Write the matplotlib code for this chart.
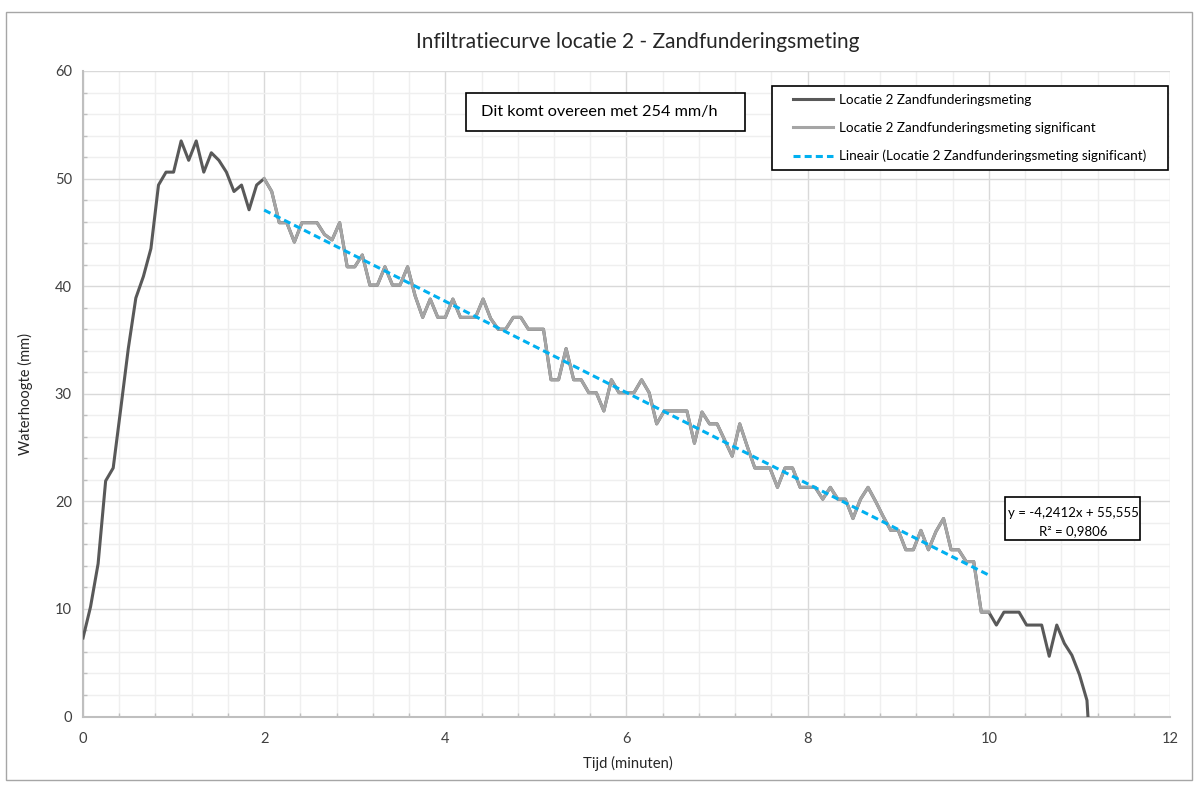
import numpy as np
import matplotlib
matplotlib.use("Agg")
import matplotlib.pyplot as plt
from matplotlib.patches import Rectangle
from matplotlib.ticker import MultipleLocator

plt.rcParams['font.family'] = ['Lato', 'DejaVu Sans']

# Water height (mm), one reading every 5 seconds
SAMPLE_SECONDS = 5
water_height = [
    7.3, 10.2, 14.2, 21.9, 23.1, 28.6, 34.2, 38.9, 40.9, 43.5,
    49.4, 50.6, 50.6, 53.5, 51.7, 53.5, 50.6, 52.4, 51.7, 50.6,
    48.8, 49.4, 47.1, 49.4, 50.0, 48.8, 45.9, 45.9, 44.1, 45.9,
    45.9, 45.9, 44.8, 44.3, 45.9, 41.8, 41.8, 42.9, 40.1, 40.1,
    41.8, 40.1, 40.1, 41.8, 39.1, 37.1, 38.8, 37.1, 37.1, 38.8,
    37.1, 37.1, 37.1, 38.8, 37.0, 36.0, 36.0, 37.1, 37.1, 36.0,
    36.0, 36.0, 31.3, 31.3, 34.2, 31.3, 31.3, 30.1, 30.1, 28.4,
    31.3, 30.1, 30.1, 30.1, 31.3, 30.1, 27.2, 28.4, 28.4, 28.4,
    28.4, 25.4, 28.3, 27.2, 27.2, 25.7, 24.2, 27.2, 25.1, 23.1,
    23.1, 23.1, 21.3, 23.1, 23.1, 21.3, 21.3, 21.3, 20.2, 21.3,
    20.2, 20.2, 18.4, 20.2, 21.3, 20.0, 18.6, 17.3, 17.3, 15.5,
    15.5, 17.3, 15.5, 17.2, 18.4, 15.5, 15.5, 14.4, 14.4, 9.7,
    9.7, 8.5, 9.7, 9.7, 9.7, 8.5, 8.5, 8.5, 5.6, 8.5,
    6.8, 5.7, 3.9, 1.5, -10.0,
]
time_min = np.arange(len(water_height)) * SAMPLE_SECONDS / 60.0

# Significant part of the measurement: from 2 to 10 minutes
sig_start_min = 2.0
sig_end_min = 10.0

# Linear trend (Excel trendline of the significant part)
slope = -4.2412
intercept = 55.555
r_squared = 0.9806

title = "Infiltratiecurve locatie 2 - Zandfunderingsmeting"
x_label = "Tijd (minuten)"
y_label = "Waterhoogte (mm)"
series_names = [
    "Locatie 2 Zandfunderingsmeting",
    "Locatie 2 Zandfunderingsmeting significant",
    "Lineair (Locatie 2 Zandfunderingsmeting significant)",
]
note_text = "Dit komt overeen met 254 mm/h"

W, H = 1198, 786
fig = plt.figure(figsize=(W / 100, H / 100), dpi=100)


def fx(px):
    return px / W


def fy(py):
    return 1 - py / H


ax = fig.add_axes([fx(83), fy(716.5), fx(1170) - fx(83), fy(71) - fy(716.5)])

height = np.array(water_height)
mask = (time_min >= sig_start_min - 1e-9) & (time_min <= sig_end_min + 1e-9)

dark = '#595959'
light = '#A5A5A5'
blue = '#00B0F0'

ax.plot(time_min, height, color=dark, lw=2.2, solid_joinstyle='round',
        label=series_names[0], zorder=3)
ax.plot(time_min[mask], height[mask], color=light, lw=2.2,
        solid_joinstyle='round', label=series_names[1], zorder=4)
tx = np.array([sig_start_min, sig_end_min])
ax.plot(tx, slope * tx + intercept, color=blue, lw=2.2,
        linestyle=(0, (2.3, 1.35)), label=series_names[2], zorder=5)

ax.set_xlim(0, 12)
ax.set_ylim(0, 60)
ax.xaxis.set_major_locator(MultipleLocator(2))
ax.xaxis.set_minor_locator(MultipleLocator(0.4))
ax.yaxis.set_major_locator(MultipleLocator(10))
ax.yaxis.set_minor_locator(MultipleLocator(2))
ax.grid(which='major', color='#D9D9D9', lw=1.0, zorder=0)
ax.grid(which='minor', color='#EFEFEF', lw=1.0, zorder=0)
ax.set_axisbelow(True)

for side in ('top', 'right'):
    ax.spines[side].set_visible(False)
for side in ('left', 'bottom'):
    ax.spines[side].set_color('#BFBFBF')
    ax.spines[side].set_linewidth(1.5)

ax.tick_params(which='major', length=0, labelsize=10.5, labelcolor='#404040')
ax.tick_params(which='minor', direction='in', length=3, color='#BFBFBF', width=1)
ax.tick_params(axis='x', which='major', pad=11)
ax.tick_params(axis='y', which='major', pad=8)

fig.text(fx(638), fy(42), title, ha='center', va='center', fontsize=15,
         color='#262626')
fig.text(fx(628), fy(763), x_label, ha='center', va='center', fontsize=10.7,
         color='#262626')
fig.text(fx(25), fy(394), y_label, ha='center', va='center', fontsize=10.5,
         rotation=90, color='#262626')

# Note box
fig.patches.append(Rectangle((fx(466), fy(131)), fx(745) - fx(466), fy(93) - fy(131),
                             transform=fig.transFigure, facecolor='white',
                             edgecolor='black', lw=1.2, zorder=6))
fig.text(fx(599), fy(112), note_text, ha='center', va='center', fontsize=11.7,
         color='black', zorder=7)

# Trendline equation box
fig.patches.append(Rectangle((fx(1005), fy(540)), fx(1140) - fx(1005), fy(497) - fy(540),
                             transform=fig.transFigure, facecolor='white',
                             edgecolor='black', lw=1.2, zorder=6))
eq = f"y = {slope:.4f}x + {intercept:.3f}".replace('.', ',')
fig.text(fx(1073), fy(513), eq, ha='center', va='center', fontsize=9.5,
         color='black', zorder=7)
fig.text(fx(1073), fy(531), f"R² = {r_squared:.4f}".replace('.', ','),
         ha='center', va='center', fontsize=9.5, color='black', zorder=7)

# Legend box, with the entries placed inside it
fig.patches.append(Rectangle((fx(772), fy(170)), fx(1168) - fx(772), fy(86) - fy(170),
                             transform=fig.transFigure, facecolor='white',
                             edgecolor='black', lw=1.2, zorder=6))
handles, labels = ax.get_legend_handles_labels()
leg = fig.legend(handles, labels, loc='upper left', bbox_to_anchor=(fx(793), fy(93.5)),
                 bbox_transform=fig.transFigure, fontsize=9.7, frameon=False,
                 handlelength=2.95, handletextpad=0.5, labelspacing=1.2,
                 borderpad=0, borderaxespad=0)
leg.set_zorder(8)

# Chart area border
fig.patches.append(Rectangle((fx(6), fy(780)), fx(1192) - fx(6), fy(12) - fy(780),
                             transform=fig.transFigure, facecolor='none',
                             edgecolor='#A6A6A6', lw=1.0, zorder=1))

fig.savefig('out.png', dpi=100, facecolor='white')
